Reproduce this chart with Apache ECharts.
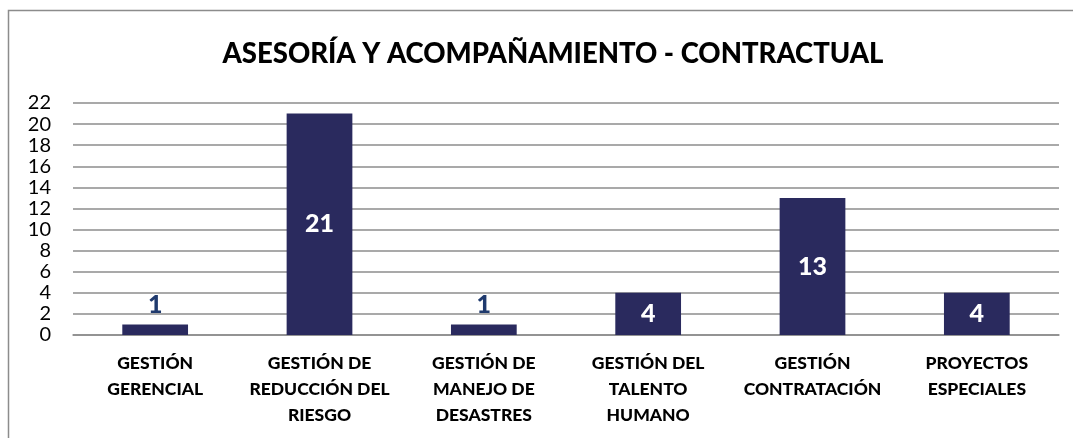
<!DOCTYPE html>
<html><head><meta charset="utf-8">
<script src="https://cdn.jsdelivr.net/npm/echarts@6/dist/echarts.min.js"></script>
<style>html,body{margin:0;padding:0;background:#fff}#c{width:1073px;height:438px}</style>
</head><body><div id="c"></div>
<script>
const categories = ['GESTIÓN\nGERENCIAL','GESTIÓN DE\nREDUCCIÓN DEL\nRIESGO','GESTIÓN DE\nMANEJO DE\nDESASTRES','GESTIÓN DEL\nTALENTO\nHUMANO','GESTIÓN\nCONTRATACIÓN','PROYECTOS\nESPECIALES'];
const values = [1, 21, 1, 4, 13, 4];
const yTicks = [0,2,4,6,8,10,12,14,16,18,20,22];
const titleText = 'ASESORÍA Y ACOMPAÑAMIENTO - CONTRACTUAL';

const chart = echarts.init(document.getElementById('c'));
const FONT = 'Lato';
chart.setOption({
  animation: false,
  graphic: [{type:'rect', shape:{x:8.5,y:10.5,width:1100,height:500}, style:{fill:'none', stroke:'#8c8c8c', lineWidth:1.5}}],
  title: {text: titleText, left: 548, textAlign:'center', top: 35, textStyle:{fontFamily:FONT, fontWeight:900, fontSize:27.5, color:'#000'}},
  grid: {left:73, right:14, top:103, bottom:103, containLabel:false},
  xAxis: {type:'category', data: categories,
    axisLine:{show:true, lineStyle:{color:'#8c8c8c', width:1.5}}, axisTick:{show:false},
    axisLabel:{interval:0, fontFamily:FONT, fontWeight:900, fontSize:17.5, color:'#000', lineHeight:26, margin:15}},
  yAxis: {type:'value', min: yTicks[0], max: yTicks[yTicks.length-1], interval:2,
    axisLine:{show:false}, axisTick:{show:false},
    splitLine:{lineStyle:{color:'#8c8c8c', width:1.5}},
    axisLabel:{fontFamily:FONT, fontSize:20, color:'#000', margin:22}},
  series: [{type:'bar', data: values.map(v => ({value:v,
      label: v >= 3 ? {position:'inside', color:'#fff'} : {position:'top', color:'#1f3a6e', distance:7}})),
    barWidth:'40%', itemStyle:{color:'#2a2a5e'},
    label:{show:true, fontFamily:FONT, fontWeight:900, fontSize:25}}]
});
</script></body></html>
